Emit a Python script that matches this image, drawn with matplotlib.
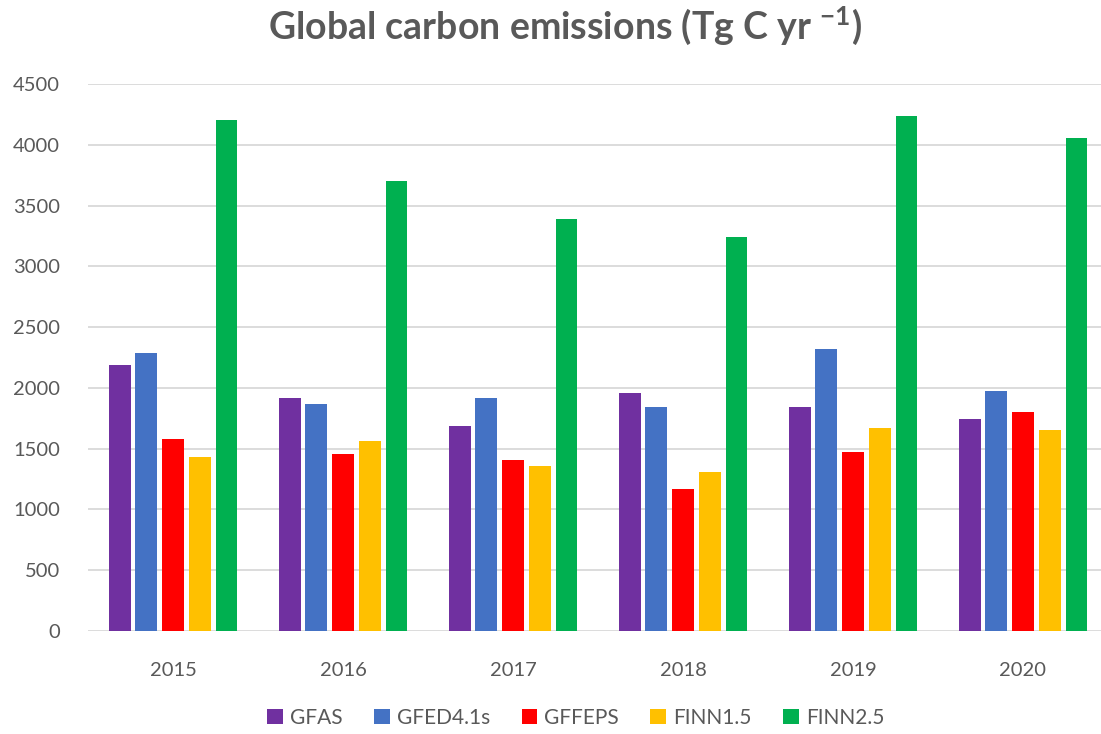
import matplotlib
matplotlib.use("Agg")
import matplotlib.pyplot as plt
import numpy as np

plt.rcParams['font.family'] = ['Lato', 'DejaVu Sans']
plt.rcParams['mathtext.default'] = 'regular'

years = ["2015", "2016", "2017", "2018", "2019", "2020"]
series_names = ["GFAS", "GFED4.1s", "GFFEPS", "FINN1.5", "FINN2.5"]
gfas = [2190, 1920, 1690, 1960, 1840, 1740]
gfed = [2285, 1870, 1920, 1840, 2320, 1975]
gffeps = [1580, 1455, 1405, 1165, 1470, 1800]
finn15 = [1435, 1565, 1360, 1310, 1670, 1650]
finn25 = [4200, 3700, 3390, 3245, 4240, 4055]
colors = ["#7030A0", "#4472C4", "#FF0000", "#FFC000", "#00B050"]
yticks = [0, 500, 1000, 1500, 2000, 2500, 3000, 3500, 4000, 4500]

data = [gfas, gfed, gffeps, finn15, finn25]

fig = plt.figure(figsize=(11.01, 7.34), dpi=100)
ax = fig.add_axes([88/1101, 103/734, 1013/1101, 547/734])

x = np.arange(len(years))
step = 0.157
width = 0.128
for i, (vals, name, c) in enumerate(zip(data, series_names, colors)):
    ax.bar(x + (i - 2) * step, vals, width=width, color=c, label=name, zorder=3)

ax.set_ylim(0, 4500)
ax.set_xlim(-0.5, -0.5 + 1013/170)
ax.set_yticks(yticks)
ax.set_xticks(x)
ax.set_xticklabels(years)
ax.yaxis.grid(True, color="#D9D9D9", linewidth=1.3, zorder=0)
for s in ax.spines.values():
    s.set_visible(False)
ax.tick_params(axis='both', length=0, labelsize=14.5, labelcolor="#595959")
ax.tick_params(axis='x', pad=22)
ax.tick_params(axis='y', pad=20)

fig.text(0.513, 0.965, "Global carbon emissions (Tg C yr $^{-1}$)", ha='center', va='center',
         fontsize=27, fontweight='bold', color="#595959")

leg = fig.legend(loc='center', bbox_to_anchor=(0.523, 0.022), ncol=5, frameon=False,
                 fontsize=15, handlelength=0.75, handleheight=0.75, handletextpad=0.35,
                 columnspacing=1.5)
for t in leg.get_texts():
    t.set_color("#595959")

fig.savefig("out.png", dpi=100)
